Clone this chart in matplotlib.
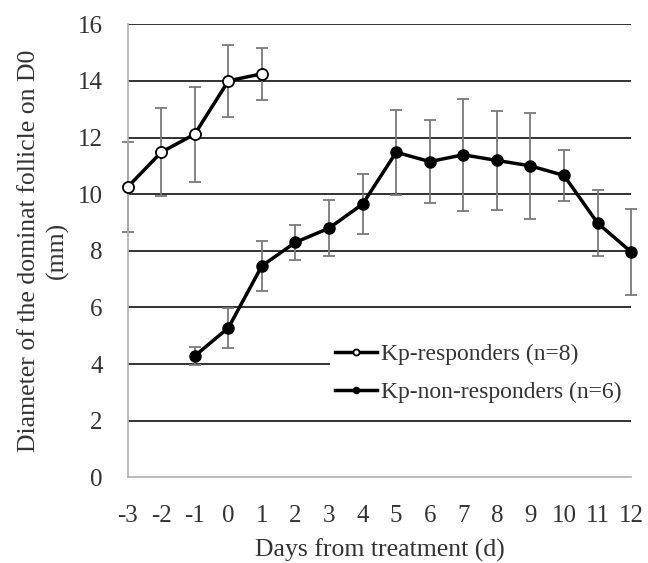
import matplotlib.pyplot as plt
import numpy as np

plt.rcParams['font.family'] = ['Liberation Serif', 'DejaVu Serif']
plt.rcParams['axes.unicode_minus'] = False

# Kp-responders (n=8)
days_resp = [-3, -2, -1, 0, 1]
mean_resp = [10.25, 11.48, 12.12, 14.0, 14.25]
sd_resp = [1.6, 1.55, 1.68, 1.27, 0.92]

# Kp-non-responders (n=6)
days_non = [-1, 0, 1, 2, 3, 4, 5, 6, 7, 8, 9, 10, 11, 12]
mean_non = [4.29, 5.28, 7.47, 8.3, 8.8, 9.65, 11.48, 11.15, 11.39, 11.19, 11.0, 10.66, 8.98, 7.96]
sd_non = [0.33, 0.71, 0.88, 0.62, 0.98, 1.05, 1.5, 1.46, 1.97, 1.75, 1.88, 0.9, 1.16, 1.53]

xticks = list(range(-3, 13))
yticks = list(range(0, 17, 2))

fig = plt.figure(figsize=(6.48, 5.63), dpi=100)
ax = fig.add_axes([0.197, 0.152, 0.777, 0.805])

# horizontal gridlines
for yv in yticks[1:]:
    ax.axhline(yv, color='#222222', linewidth=1.3, zorder=1)

err_kw = dict(ecolor='#7a7a7a', elinewidth=1.3, capsize=4, capthick=1.3)

ax.errorbar(days_non, mean_non, yerr=sd_non, fmt='none', zorder=2, clip_on=False, **err_kw)
ax.errorbar(days_resp, mean_resp, yerr=sd_resp, fmt='none', zorder=2, clip_on=False, **err_kw)

ax.plot(days_resp, mean_resp, color='black', linewidth=2.5, marker='o', markersize=8,
        markerfacecolor='white', markeredgecolor='black', markeredgewidth=1.3,
        zorder=4, clip_on=False, label='Kp-responders (n=8)')
ax.plot(days_non, mean_non, color='black', linewidth=2.5, marker='o', markersize=8,
        markerfacecolor='black', markeredgecolor='black',
        zorder=4, clip_on=False, label='Kp-non-responders (n=6)')

ax.set_xlim(-3, 12)
ax.set_ylim(0, 16)
ax.set_xticks(xticks)
ax.set_yticks(yticks)
ax.tick_params(axis='both', length=0, labelsize=18, colors='#333333')
ax.tick_params(axis='x', pad=20)
ax.tick_params(axis='y', pad=18)

for s in ['top', 'right']:
    ax.spines[s].set_visible(False)
ax.spines['left'].set_color('#b0b0b0')
ax.spines['bottom'].set_color('#b0b0b0')
ax.spines['left'].set_linewidth(1.2)
ax.spines['bottom'].set_linewidth(1.2)

ax.set_xlabel('Days from treatment (d)', fontsize=18.5, color='#333333', labelpad=8)
ax.set_ylabel('Diameter of the dominat follicle on D0\n(mm)', fontsize=18.5,
              color='#333333', labelpad=6, linespacing=1.35)

leg = ax.legend(loc='upper left', bbox_to_anchor=(0.402, 0.155, 0.598, 0.15),
                mode='expand', fontsize=17,
                frameon=True, fancybox=False, edgecolor='none', facecolor='white',
                framealpha=1, handlelength=1.8, handletextpad=0.15, borderpad=0.2,
                borderaxespad=0, labelspacing=0.7, markerscale=0.55)
leg.set_zorder(5)
for t in leg.get_texts():
    t.set_color('#333333')

plt.savefig('out.png', dpi=100)
